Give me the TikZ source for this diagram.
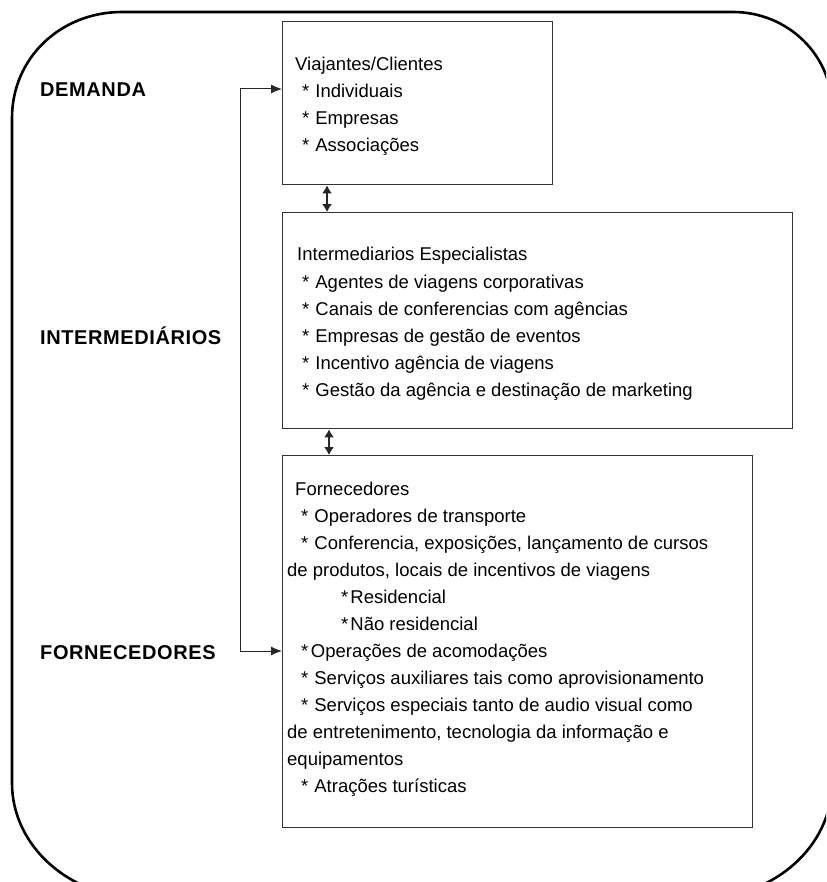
\documentclass[tikz,border=0pt]{standalone}
\usepackage{fontspec}
\setmainfont{Liberation Sans}
\usetikzlibrary{arrows.meta}

\newcommand{\bul}[1][6pt]{*\hspace{#1}}

\tikzset{
  frame/.style={line width=2.6pt, draw=black},
  panel/.style={draw=black!80, line width=1.4pt, fill=white, inner sep=0pt, anchor=north west},
  txt/.style={anchor=base west, inner sep=0pt, font=\fontsize{18.5}{22}\selectfont},
  lbl/.style={anchor=base west, inner sep=0pt, font=\bfseries\fontsize{20}{24}\selectfont\addfontfeature{LetterSpace=3}},
  link/.style={line width=1pt, draw=black!85},
  tip/.tip={Latex[length=11pt,width=9pt]},
  dtip/.tip={Latex[length=8pt,width=10pt]}
}

\begin{document}
\begin{tikzpicture}[x=1pt,y=-1pt]
\useasboundingbox (0,0) rectangle (826,882);
\clip (0,0) rectangle (826,882);

% rounded outer frame
\draw[frame] (12,118) .. controls (12,58.1) and (60.4,12) .. (122,12)
  -- (733,12) .. controls (787.6,12) and (832,55) .. (832,108)
  -- (832,783) .. controls (832,846.5) and (773.8,898) .. (702,898)
  -- (142,898) .. controls (70.2,898) and (12,846.5) .. (12,783) -- cycle;

% level labels
\node[lbl] (lDem) at (40,97) {DEMANDA};
\node[lbl] (lInt) at (40,344) {INTERMEDIÁRIOS};
\node[lbl] (lFor) at (40,659) {FORNECEDORES};

% boxes
\node[panel, minimum width=270pt, minimum height=163pt] (demBox) at (282,21) {};
\node[panel, minimum width=510pt, minimum height=216pt] (intBox) at (282,212) {};
\node[panel, minimum width=470pt, minimum height=372pt] (forBox) at (282,455) {};

% demand box text
\node[txt] (d0) at (295,71) {Viajantes/Clientes};
\node[txt] (d1) at (302,98) {\bul Individuais};
\node[txt] (d2) at (302,125) {\bul Empresas};
\node[txt] (d3) at (302,152) {\bul Associações};

% intermediaries box text
\node[txt] (i0) at (297,261) {Intermediarios Especialistas};
\node[txt] (i1) at (302,288) {\bul Agentes de viagens corporativas};
\node[txt] (i2) at (302,315) {\bul Canais de conferencias com agências};
\node[txt] (i3) at (302,342) {\bul Empresas de gestão de eventos};
\node[txt] (i4) at (302,369) {\bul Incentivo agência de viagens};
\node[txt] (i5) at (302,396) {\bul Gestão da agência e destinação de marketing};

% suppliers box text
\node[txt] (f0) at (295,495) {Fornecedores};
\node[txt] (f1) at (301,522) {\bul Operadores de transporte};
\node[txt] (f2) at (301,549) {\bul Conferencia, exposições, lançamento de cursos};
\node[txt] (f3) at (287,576) {de produtos, locais de incentivos de viagens};
\node[txt] (f4) at (341,603) {\bul[2pt]Residencial};
\node[txt] (f5) at (341,630) {\bul[2pt]Não residencial};
\node[txt] (f6) at (301,657) {\bul[2.5pt]Operações de acomodações};
\node[txt] (f7) at (301,684) {\bul Serviços auxiliares tais como aprovisionamento};
\node[txt] (f8) at (301,711) {\bul Serviços especiais tanto de audio visual como};
\node[txt] (f9) at (287,738) {de entretenimento, tecnologia da informação e};
\node[txt] (f10) at (287,765) {equipamentos};
\node[txt] (f11) at (301,792) {\bul Atrações turísticas};

% connectors
\coordinate (spineTop) at (240,89);
\coordinate (spineBot) at (240,651);
\draw[link, tip-tip] (spineTop -| demBox.west) -- (spineTop) -- (spineBot) -- (spineBot -| forBox.west);
\draw[link, line width=1.3pt, dtip-dtip] ([xshift=45pt]demBox.south west) -- ([xshift=45pt]intBox.north west);
\draw[link, line width=1.3pt, dtip-dtip] ([xshift=47pt]intBox.south west) -- ([xshift=47pt]forBox.north west);
\end{tikzpicture}
\end{document}
